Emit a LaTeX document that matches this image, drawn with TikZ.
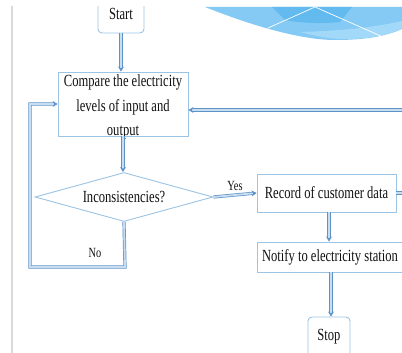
\documentclass[tikz,border=0pt]{standalone}
\usepackage{fontspec}
\setmainfont{Liberation Serif}[FakeStretch=0.74]
\usetikzlibrary{shapes.geometric,arrows.meta}
\definecolor{lineblue}{HTML}{5E93C8}
\definecolor{fillblue}{HTML}{C9DDF0}
\definecolor{boxblue}{HTML}{9CC4E4}
\definecolor{txt}{HTML}{111111}
\definecolor{swA}{HTML}{84CAF4}
\definecolor{swB}{HTML}{62BAEE}
\definecolor{swC}{HTML}{A2D8F8}
\tikzset{
  box/.style={draw=boxblue, line width=0.9pt, fill=white, inner sep=0pt, text=txt,
    font=\fontsize{17}{24.5}\selectfont},
  roundbox/.style={box, rounded corners=4pt},
  decision/.style={box, diamond, aspect=3.63, minimum width=178pt, minimum height=49pt},
  lbl/.style={inner sep=0pt, text=txt, font=\fontsize{14}{16}\selectfont},
  flow/.style={draw=lineblue, line width=0.7pt, double=fillblue, double distance=1.8pt,
    line join=miter, -{Stealth[length=5pt,width=6pt,fill=lineblue]}}
}
\begin{document}
\begin{tikzpicture}[x=1pt,y=1pt]
\useasboundingbox (0,0) rectangle (402,353);
\clip (0,0) rectangle (402,353);
% decorative swoosh
\fill[swA] (205,346) .. controls (250,328) and (300,313) .. (335,313)
  .. controls (370,313) and (392,318) .. (410,328) -- (410,346) -- cycle;
\fill[swB] (272,346) -- (352,346) -- (340,331) .. controls (320,329) and (300,330) .. (285,333) -- cycle;
\fill[swC] (300,321) .. controls (320,316) and (330,314) .. (345,314)
  .. controls (370,314) and (392,318) .. (410,328) -- (410,334) .. controls (380,326) and (340,322) .. (300,321) -- cycle;
\draw[white, line width=0.7pt] (268,325) -- (315,346);
\draw[white, line width=0.7pt] (315,346) -- (383,316);
% left gray rule
\draw[gray!30, line width=1.8pt] (12,0) -- (12,353);
% nodes
\node[roundbox, minimum width=46pt, minimum height=38pt] (start) at (121,339) {Start};
\node[box, minimum width=130pt, minimum height=64pt] (compare) at (123,249) {};
\node[inner sep=0pt, text=txt, align=center, font=\fontsize{17}{24.5}\selectfont] (cmptext) at (123,246)
  {Compare the electricity\\levels of input and\\output};
\node[decision] (dec) at (124,156) {Inconsistencies?};
\node[box, minimum width=139pt, minimum height=38pt] (record) at (326.5,160) {Record of customer data};
\node[box, minimum width=146pt, minimum height=30pt] (notify) at (330,96) {Notify to electricity station};
\node[roundbox, minimum width=42pt, minimum height=40pt] (stop) at (329,16) {Stop};
\coordinate (nobot) at (125,86);
\coordinate (noleft) at (30,86);
\coordinate (notop) at (30,249);
\coordinate (fbr) at (412,160);
\coordinate (fbt) at (412,243);
% connectors
\draw[flow] (start.south) -- (start.south |- compare.north);
\draw[flow] (compare.south) -- (compare.south |- dec.north);
\draw[flow] (dec.east) -- (record.west) node[lbl, midway, above=4pt] {Yes};
\draw[flow] (record.south -| 329,0) -- (329,0 |- notify.north);
\draw[flow] (331,0 |- notify.south) -- (331,0 |- stop.north);
\draw[flow] (dec.south) -- (nobot) -- (noleft) -- (notop) -- (compare.west);
\node[lbl] (no) at (95,100) {No};
\draw[flow] (record.east) -- (fbr) -- (fbt) -- (compare.east |- fbt);
% top white band
\fill[white] (0,347) rectangle (402,353);
\end{tikzpicture}
\end{document}
